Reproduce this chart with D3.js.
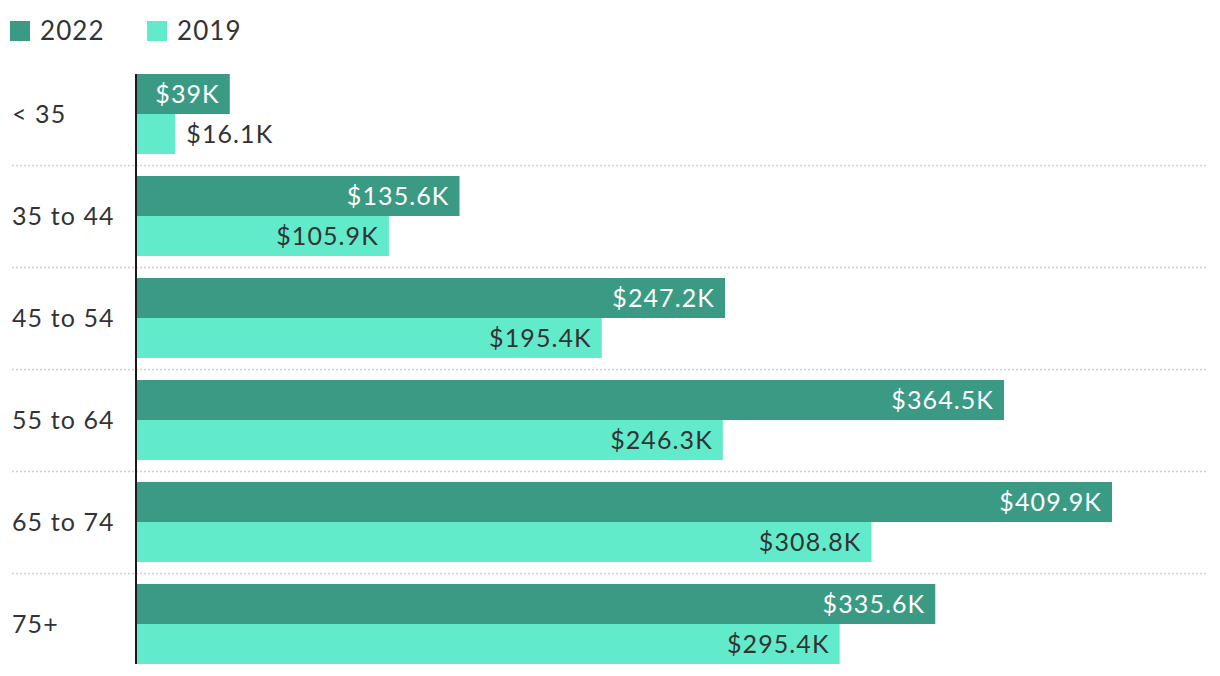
<!DOCTYPE html>
<html>
<head>
<meta charset="utf-8">
<script src="https://cdn.jsdelivr.net/npm/d3@7"></script>
<style>
  html, body { margin: 0; padding: 0; background: #fff; }
  svg { display: block; font-family: Lato, "Open Sans", sans-serif; }
  svg text { letter-spacing: 1.1px; }
</style>
</head>
<body>
<svg id="chart" width="1220" height="676"></svg>
<script>
const categories = ["< 35", "35 to 44", "45 to 54", "55 to 64", "65 to 74", "75+"];
const seriesNames = ["2022", "2019"];
const values2022 = [39, 135.6, 247.2, 364.5, 409.9, 335.6];
const values2019 = [16.1, 105.9, 195.4, 246.3, 308.8, 295.4];
const colors = ["#3a9a83", "#62ebcb"];
const labelColors = ["#ffffff", "#333333"];

const svg = d3.select("#chart");
const fontSize = 25;

const x = d3.scaleLinear().domain([0, 409.9]).range([137, 1112]);
const y = d3.scaleBand().domain(categories).range([63, 675])
  .paddingInner(22 / 102).paddingOuter(11 / 102);
const ySub = d3.scaleBand().domain(seriesNames).range([0, y.bandwidth()]);

// separators
const seps = categories.slice(1).map(c => y(c) - 11);
svg.selectAll("line.sep").data(seps).enter().append("line")
  .attr("class", "sep")
  .attr("x1", 12).attr("x2", 1208)
  .attr("y1", d => d + 0.5).attr("y2", d => d + 0.5)
  .attr("stroke", "#d0d0d0").attr("stroke-width", 1.5)
  .attr("stroke-dasharray", "2,2");

// category labels
svg.selectAll("text.cat").data(categories).enter().append("text")
  .attr("class", "cat")
  .attr("x", 12)
  .attr("y", d => y(d) + y.bandwidth() / 2)
  .attr("dy", "0.36em")
  .attr("fill", "#333")
  .style("font-size", fontSize + "px")
  .text(d => d);

const rows = [];
categories.forEach((c, i) => {
  rows.push({ cat: c, s: 0, v: values2022[i] });
  rows.push({ cat: c, s: 1, v: values2019[i] });
});

const g = svg.selectAll("g.bar").data(rows).enter().append("g").attr("class", "bar");
g.append("rect")
  .attr("x", x(0))
  .attr("y", d => y(d.cat) + ySub(seriesNames[d.s]))
  .attr("width", d => x(d.v) - x(0))
  .attr("height", ySub.bandwidth())
  .attr("fill", d => colors[d.s]);

g.append("text")
  .style("font-size", fontSize + "px")
  .attr("y", d => y(d.cat) + ySub(seriesNames[d.s]) + ySub.bandwidth() / 2)
  .attr("dy", "0.36em")
  .text(d => "$" + d.v + "K")
  .each(function (d) {
    const t = d3.select(this);
    const w = this.getComputedTextLength();
    const bw = x(d.v) - x(0);
    if (w + 20 < bw) {
      t.attr("x", x(d.v) - 10).attr("text-anchor", "end").attr("fill", labelColors[d.s]);
    } else {
      t.attr("x", x(d.v) + 11).attr("text-anchor", "start").attr("fill", "#333");
    }
  });

// axis line
svg.append("line")
  .attr("x1", 136).attr("x2", 136)
  .attr("y1", y(categories[0])).attr("y2", y(categories[categories.length - 1]) + y.bandwidth())
  .attr("stroke", "#1a1a1a").attr("stroke-width", 2);

// legend
const legendX = [10, 147];
const lg = svg.selectAll("g.legend").data(seriesNames).enter().append("g").attr("class", "legend")
  .attr("transform", (d, i) => `translate(${legendX[i]},21)`);
lg.append("rect").attr("width", 20).attr("height", 20).attr("fill", (d, i) => colors[i]);
lg.append("text").attr("x", 30).attr("y", 10).attr("dy", "0.36em")
  .attr("fill", "#333").style("font-size", "26px").text(d => d);
</script>
</body>
</html>
